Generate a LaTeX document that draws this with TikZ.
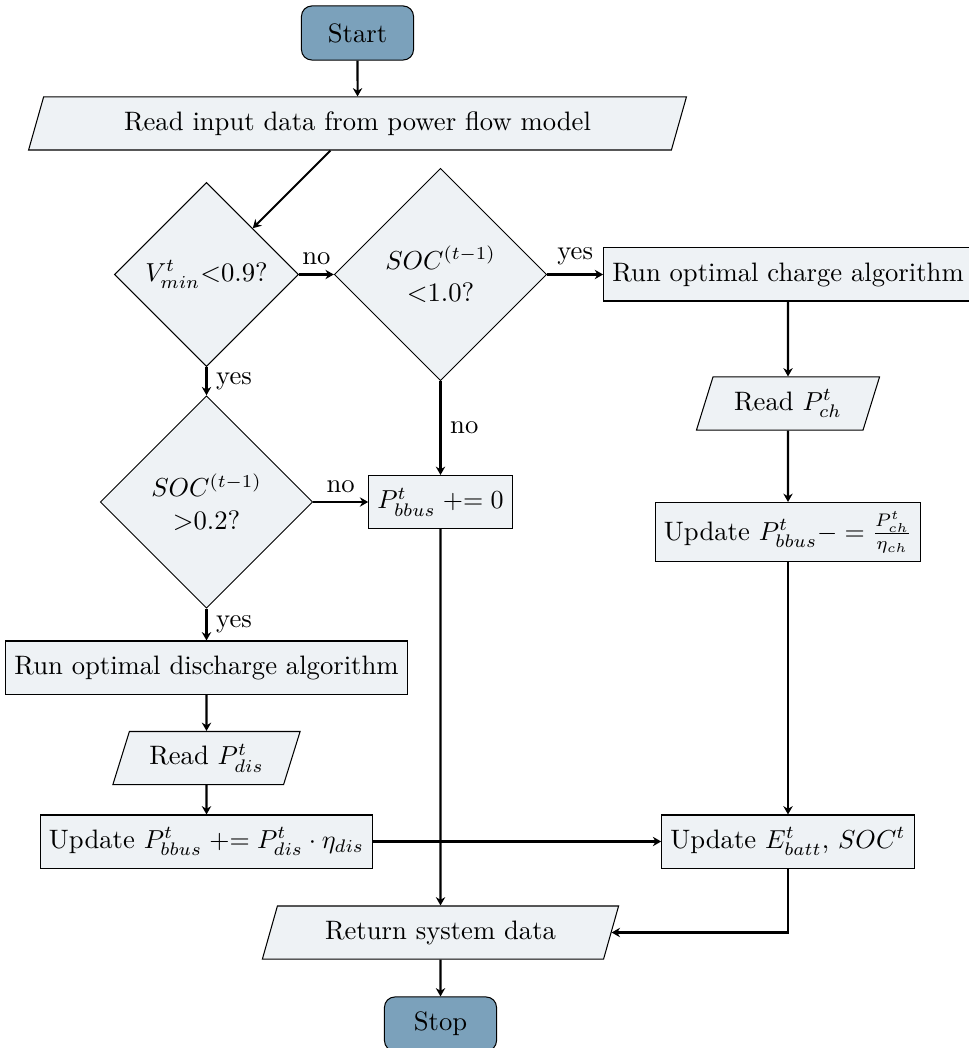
\documentclass[tikz,border=0pt]{standalone}
\usetikzlibrary{shapes.geometric,arrows.meta}
\definecolor{boxfill}{HTML}{EEF2F5}
\definecolor{termfill}{HTML}{7BA1BB}
\begin{document}
\begin{tikzpicture}[x=0.3846pt,y=-0.3846pt,
  every node/.style={font=\fontsize{10.25pt}{12.4pt}\selectfont},
  base/.style={draw=black, line width=0.4pt, fill=boxfill, align=center},
  terminal/.style={base, fill=termfill, rounded corners=4pt, minimum width=43.1pt, minimum height=20.8pt},
  process/.style={base, rectangle, minimum height=20.4pt},
  io/.style={base, trapezium, trapezium left angle=70, trapezium right angle=110,
    trapezium stretches body, minimum height=20.4pt},
  decision/.style={base, diamond, aspect=1, inner sep=0pt},
  flow/.style={thick, -{Stealth[length=3.2pt,width=3.6pt]}}
]
\useasboundingbox (0,0) rectangle (968,1048);

% nodes
\node[terminal] (start) at (357.5,33) {Start};
\node[io, minimum width=253pt] (input) at (357.5,123.5) {Read input data from power flow model};
\node[decision, minimum size=70.8pt] (d1) at (206.5,274.5) {$V^t_{min}$<0.9?};
\node[decision, minimum size=81.7pt] (d2) at (440.5,274.5) {$SOC^{(t-1)}$\\<1.0?};
\node[process] (charge) at (788,274.5) {Run optimal charge algorithm};
\node[io, minimum width=70.4pt] (readch) at (788,403.5) {Read $P^t_{ch}$};
\node[process] (updch) at (788,532) {Update $P^t_{bbus}-=\frac{P^t_{ch}}{\eta_{ch}}$};
\node[decision, minimum size=81.7pt] (d3) at (206.5,502) {$SOC^{(t-1)}$\\>0.2?};
\node[process] (zero) at (440.5,502) {$P^t_{bbus}\mathrel{+}=0$};
\node[process] (discharge) at (206.5,667.5) {Run optimal discharge algorithm};
\node[io, minimum width=72pt] (readdis) at (206.5,758) {Read $P^t_{dis}$};
\node[process] (upddis) at (206.5,841.5) {Update $P^t_{bbus}\mathrel{+}=P^t_{dis}\cdot\eta_{dis}$};
\node[process] (updE) at (788,841.5) {Update $E^t_{batt}$, $SOC^t$};
\node[io, minimum width=137pt] (ret) at (440.5,932.5) {Return system data};
\node[terminal] (stop) at (440.5,1024) {Stop};

% connectors
\draw[flow] (start) -- (input);
\draw[flow] (input) -- (d1);
\draw[flow] (d1.east) -- node[above] {no} (d2.west);
\draw[flow] (d2.east) -- node[above] {yes} (charge.west);
\draw[flow] (d2.south) -- node[right] {no} (zero.north);
\draw[flow] (d1.south) -- node[right] {yes} (d3.north);
\draw[flow] (d3.east) -- node[above] {no} (zero.west);
\draw[flow] (d3.south) -- node[right] {yes} (discharge.north);
\draw[flow] (charge) -- (readch);
\draw[flow] (readch) -- (updch);
\draw[flow] (updch) -- (updE);
\draw[flow] (discharge) -- (readdis);
\draw[flow] (readdis) -- (upddis);
\draw[flow] (upddis) -- (updE);
\draw[flow] (zero) -- (ret);
\draw[flow] (updE.south) |- (ret.east);
\draw[flow] (ret) -- (stop);
\end{tikzpicture}
\end{document}
